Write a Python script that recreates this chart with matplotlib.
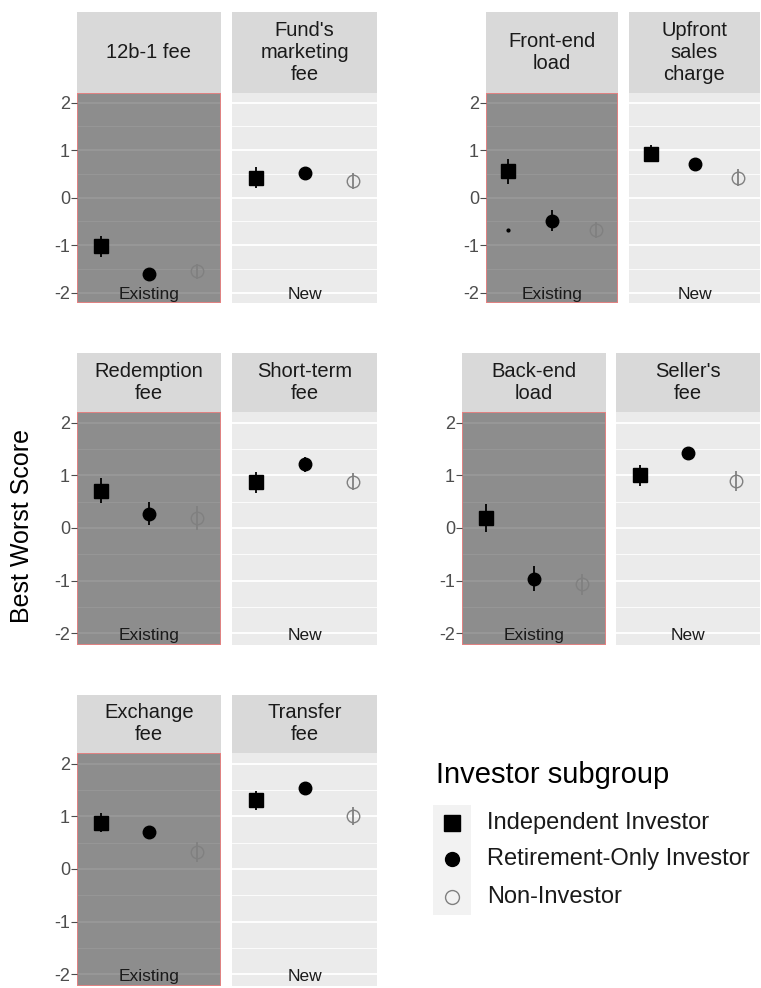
import numpy as np
import matplotlib.pyplot as plt
from matplotlib.patches import Rectangle

plt.rcParams['font.family'] = ['Liberation Sans', 'DejaVu Sans']

# panel titles, in reading order (pairs: existing fee / new fee)
panel_titles = ['12b-1 fee', "Fund's\nmarketing\nfee",
                'Front-end\nload', 'Upfront\nsales\ncharge',
                'Redemption\nfee', 'Short-term\nfee',
                'Back-end\nload', "Seller's\nfee",
                'Exchange\nfee', 'Transfer\nfee']
panel_kind = ['Existing', 'New'] * 5

groups = ['Independent Investor', 'Retirement-Only Investor', 'Non-Investor']
group_x = [1, 2, 3]

independent = [-1.03, 0.42, 0.55, 0.92, 0.71, 0.87, 0.19, 1.00, 0.88, 1.30]
retirement = [-1.60, 0.51, -0.49, 0.70, 0.27, 1.21, -0.96, 1.43, 0.70, 1.53]
non_investor = [-1.55, 0.35, -0.68, 0.42, 0.19, 0.88, -1.07, 0.90, 0.33, 1.00]

independent_err = [0.23, 0.22, 0.27, 0.18, 0.23, 0.20, 0.27, 0.20, 0.18, 0.18]
retirement_err = [0.06, 0.08, 0.22, 0.10, 0.22, 0.14, 0.24, 0.08, 0.10, 0.08]
non_investor_err = [0.16, 0.17, 0.17, 0.17, 0.23, 0.16, 0.20, 0.19, 0.19, 0.17]

# odd little dot in the front-end load panel
stray_panel = 2
stray_x = 1
stray_y = -0.68

yticks = [-2, -1, 0, 1, 2]

W, H = 761, 988
fig = plt.figure(figsize=(W / 100, H / 100), dpi=100)


def box(x0, y0, x1, y1):
    return [x0 / W, 1 - y1 / H, (x1 - x0) / W, (y1 - y0) / H]


# pixel layout: (strip top, panel top, panel bottom), x spans of the pair
rows = [(12, 93, 303), (12, 93, 303),
        (353, 412, 645), (353, 412, 645),
        (695, 753, 986)]
cols = [((77, 221), (232, 377)), ((486, 618), (629, 760)),
        ((77, 221), (232, 377)), ((462, 606), (616, 760)),
        ((77, 221), (232, 377))]

# (means, errors, marker, face, edge, size)
series = [(independent, independent_err, 's', 'black', 'black', 10),
          (retirement, retirement_err, 'o', 'black', 'black', 9),
          (non_investor, non_investor_err, 'o', 'none', '#808080', 9)]

for p in range(10):
    pair, side = divmod(p, 2)
    st, pt, pb = rows[pair]
    x0, x1 = cols[pair][side]

    ax = fig.add_axes(box(x0, pt, x1, pb))
    ax.set_facecolor('#EBEBEB')
    ax.set_xlim(0.5, 3.5)
    ax.set_ylim(-2.22, 2.2)
    for s in ax.spines.values():
        s.set_visible(False)
    for v in yticks:
        ax.axhline(v, color='white', lw=1.3, zorder=0)
    for v in [-1.5, -0.5, 0.5, 1.5]:
        ax.axhline(v, color='white', lw=0.6, zorder=0)
    ax.set_xticks([])
    ax.set_yticks(yticks)
    if side == 0:
        ax.set_yticklabels([str(v) for v in yticks], fontsize=13, color='#4D4D4D')
        ax.tick_params(axis='y', length=4, color='#4D4D4D', pad=1)
        # grey overlay for the "Existing" fee panel
        ax.add_patch(Rectangle((0, 0), 1, 1, transform=ax.transAxes,
                               facecolor='black', alpha=0.4, zorder=1))
        ax.add_patch(Rectangle((0.002, 0.002), 0.996, 0.996, transform=ax.transAxes,
                               facecolor='none', edgecolor='#F08080', lw=1.2, zorder=1.5))
    else:
        ax.tick_params(axis='y', length=0, labelleft=False)

    for gx, (vals, errs, mk, fc, ec, ms) in zip(group_x, series):
        ax.plot(gx, vals[p], marker=mk, ms=ms, mfc=fc, mec=ec, mew=1.0,
                ls='none', zorder=3)
        ax.errorbar(gx, vals[p], yerr=errs[p], fmt='none', ecolor=ec,
                    elinewidth=1.3, capsize=0, zorder=4)

    if p == stray_panel:
        ax.plot(stray_x, stray_y, marker='o', ms=2, color='black', ls='none', zorder=3)

    ax.text(2, -2.04, panel_kind[p], ha='center', va='center', fontsize=12.5,
            color='#1A1A1A', zorder=5)

    sax = fig.add_axes(box(x0, st, x1, pt))
    sax.set_facecolor('#D9D9D9')
    sax.set_xticks([])
    sax.set_yticks([])
    for s in sax.spines.values():
        s.set_visible(False)
    sax.text(0.5, 0.5, panel_titles[p], ha='center', va='center', fontsize=14.5,
             color='#1A1A1A', linespacing=1.2, transform=sax.transAxes)

fig.text(22 / W, 1 - 526 / H, 'Best Worst Score', rotation=90, ha='center', va='center',
         fontsize=18, color='black')

# legend
lax = fig.add_axes([0, 0, 1, 1])
lax.set_xlim(0, W)
lax.set_ylim(H, 0)
lax.axis('off')
lax.text(436, 775, 'Investor subgroup', fontsize=21, ha='left', va='center', color='black')
lax.add_patch(Rectangle((433, 805), 38, 110, facecolor='#F2F2F2', edgecolor='none'))
key_y = [823, 859, 897]
for (vals, errs, mk, fc, ec, ms), ky, lbl in zip(series, key_y, groups):
    lax.plot(452, ky, marker=mk, ms=ms + 1, mfc=fc, mec=ec, mew=1.0, ls='none')
    lax.text(487, ky, lbl, fontsize=17, ha='left', va='center', color='#1A1A1A')

fig.savefig('out.png', dpi=100)
